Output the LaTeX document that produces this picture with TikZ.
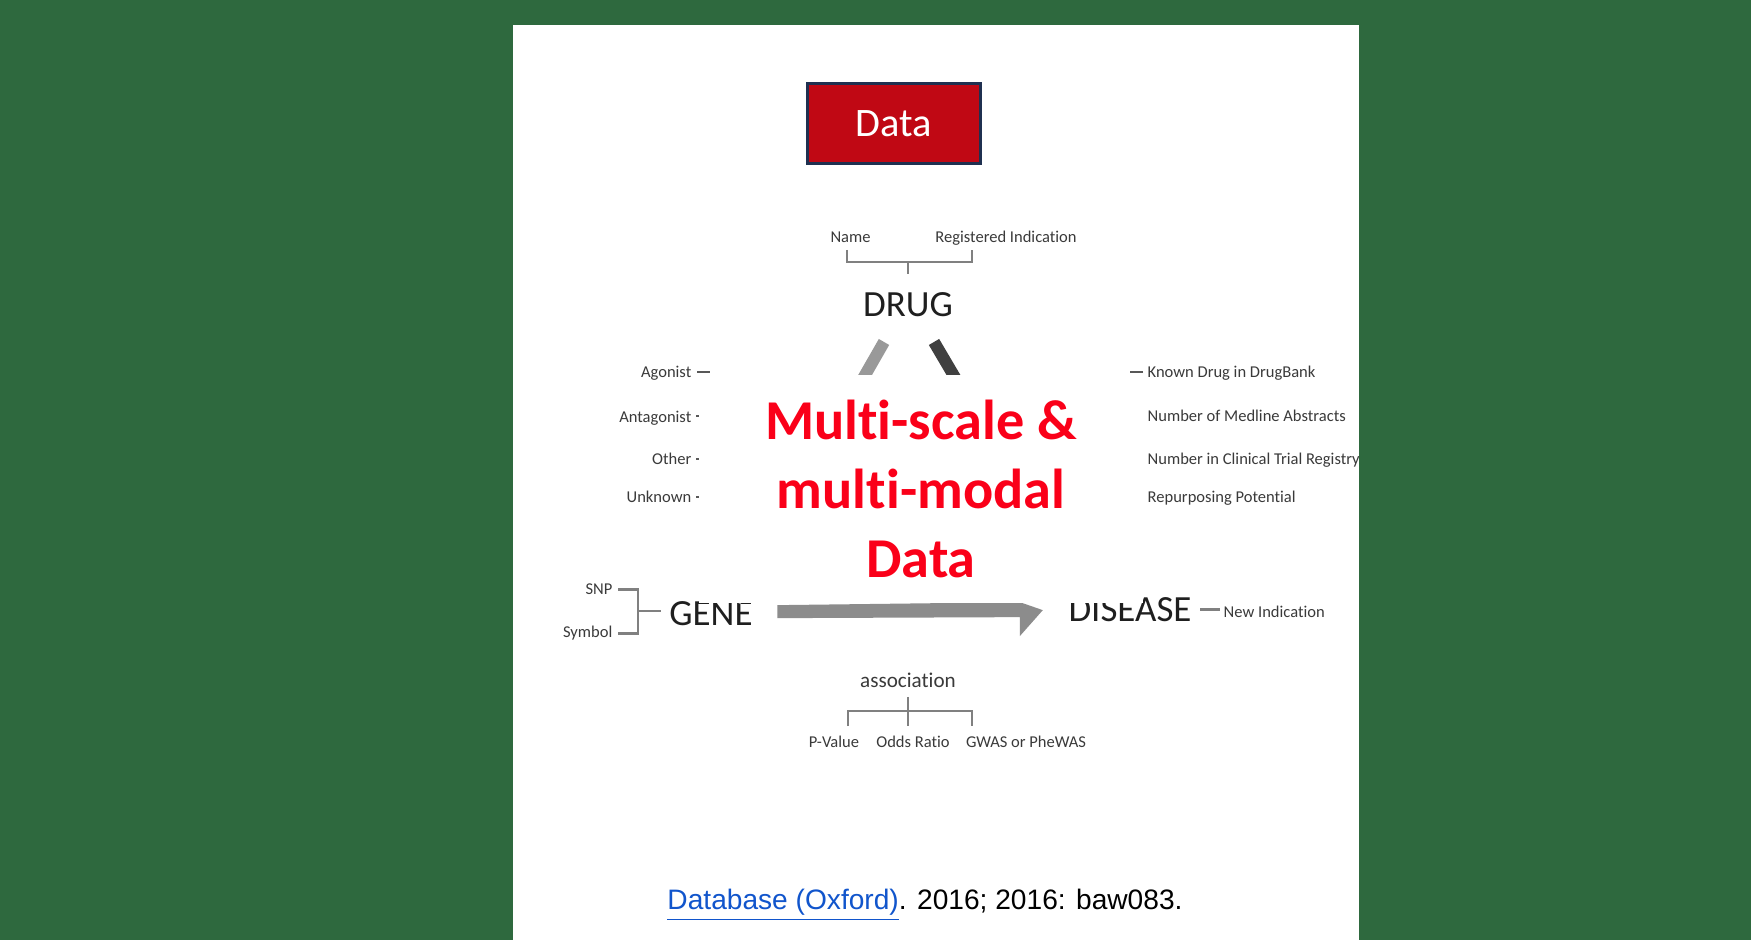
\documentclass[tikz,border=0pt]{standalone}
\usepackage{fontspec}
\setmainfont[Ligatures=NoCommon]{Carlito}
\newfontfamily\citefont{Liberation Sans}
\usetikzlibrary{calc, positioning}
\definecolor{slidegreen}{RGB}{46,105,62}
\definecolor{titlered}{RGB}{192,8,20}
\definecolor{titlenavy}{RGB}{31,48,80}
\definecolor{hubred}{RGB}{250,0,25}
\definecolor{linkblue}{RGB}{17,85,204}
\definecolor{bracegray}{RGB}{128,128,128}
\definecolor{labelgray}{RGB}{58,58,58}

\begin{document}
\begin{tikzpicture}[x=0.01cm,y=-0.01cm,
    entity/.style={font=\fontsize{10.5}{12}\selectfont,text=black!88,inner sep=0pt},
    attr/.style={font=\fontsize{4.7}{5.6}\selectfont,text=labelgray,inner sep=0pt},
    brace/.style={draw=bracegray,line width=0.7pt},
    tick/.style={draw=labelgray!85,line width=0.6pt},
    drugbar/.style={line width=3.4pt}]
    \fill[slidegreen] (0,0) rectangle (1751,940);
    \fill[white] (513,25) rectangle (1359,940);
    % title box
    \node[fill=titlered,draw=titlenavy,line width=0.85pt,minimum width=1.72cm,minimum height=0.79cm,
        text=white,font=\fontsize{11.5}{13}\selectfont] (title) at (894,123.5) {Data};
    % entities
    \node[entity,anchor=base] (drug) at (908,317) {DRUG};
    \node[entity,anchor=base] (gene) at (711,626) {GENE};
    \node[entity,anchor=base] (disease) at (1130,621) {DISEASE};
    \node[font=\fontsize{6}{7}\selectfont,text=labelgray,inner sep=0pt,anchor=base] (assoc) at (908,687) {association};
    % attributes
    \node[attr,anchor=base] (name) at (850.5,243) {Name};
    \node[attr,anchor=base] (regind) at (1006,243) {Registered Indication};
    \node[attr,anchor=base east] (agonist) at (692,378) {Agonist};
    \node[attr,anchor=base east] (antagonist) at (692,423) {Antagonist};
    \node[attr,anchor=base east] (other) at (692,465) {Other};
    \node[attr,anchor=base east] (unknown) at (692,503) {Unknown};
    \node[attr,anchor=base west] (known) at (1147,378) {Known Drug in DrugBank};
    \node[attr,anchor=base west] (medline) at (1147,422) {Number of Medline Abstracts};
    \node[attr,anchor=base west] (trial) at (1147,465) {Number in Clinical Trial Registry};
    \node[attr,anchor=base west] (repurp) at (1147,503) {Repurposing Potential};
    \node[attr,anchor=base east] (snp) at (613,595) {SNP};
    \node[attr,anchor=base east] (symbol) at (613,638) {Symbol};
    \node[attr,anchor=base west] (newind) at (1223,617) {New Indication};
    \node[attr,anchor=base] (pval) at (834,747) {P-Value};
    \node[attr,anchor=base] (odds) at (913,747) {Odds Ratio};
    \node[attr,anchor=base] (gwas) at (1026,747) {GWAS or PheWAS};
    \coordinate (gclamp) at (638,611);

    % brackets
    \draw[brace] (847,250) |- (972,262) -- (972,250);
    \draw[brace] (908,262) -- ($(drug.north)+(0,-18)$);
    \draw[brace] ($(snp.east)+(5,0)$) -| (gclamp) |- ($(symbol.east)+(5,0)$);
    \draw[brace] (gclamp) -- ($(gclamp -| gene.west)+(-8,0)$);
    \draw[brace] ($(assoc.south)+(0,9)$) -- (908,726);
    \draw[brace] (848,726) |- (972,711) -- (972,726);
    \draw[tick] ($(agonist.east)+(5,-2)$) -- ++(13,0);
    \draw[tick] ($(antagonist.east)+(4,-3)$) -- ++(40,0);
    \draw[tick] ($(other.east)+(4,0)$) -- ++(40,0);
    \draw[tick] ($(unknown.east)+(4,0)$) -- ++(40,0);
    \draw[tick] ($(known.west)+(-4,-2)$) -- ++(-13,0);
    \draw[brace,line width=0.85pt] ($(disease.east)+(8,0)$) -- ++(20,0);

    % connectors
    \draw[drugbar,draw=black!40] ($(drug.south)+(-24,24)$) -- ($(gene.north east)+(-18,0)$);
    \draw[drugbar,draw=black!75] ($(drug.south)+(26,24)$) -- ($(disease.north west)+(16,0)$);
    \coordinate (tail) at ($(gene.east)+(24,-3)$);
    \coordinate (tip) at ($(disease.west)+(-25,1)$);
    \fill[black!45] ($(tail)+(0,-6)$) -- ($(tip)+(-23,-8)$) -- (tip) -- ($(tip)+(-23,26)$)
        -- ($(tip)+(-23,7)$) -- ($(tail)+(0,7)$) -- cycle;

    \node[fill=white,minimum width=4.435cm,minimum height=2.275cm,inner sep=0pt,align=center,
        text=hubred,font=\fontsize{16}{19.6}\selectfont\bfseries] (hub) at (921,489.25)
        {Multi-scale \&\\multi-modal\\Data};

    \node[anchor=base,inner sep=0pt,font=\citefont\fontsize{8}{10}\selectfont] (cite) at (925,909)
        {\textcolor{linkblue}{\underline{Database (Oxford)}}. 2016; 2016: baw083.};
\end{tikzpicture}
\end{document}
